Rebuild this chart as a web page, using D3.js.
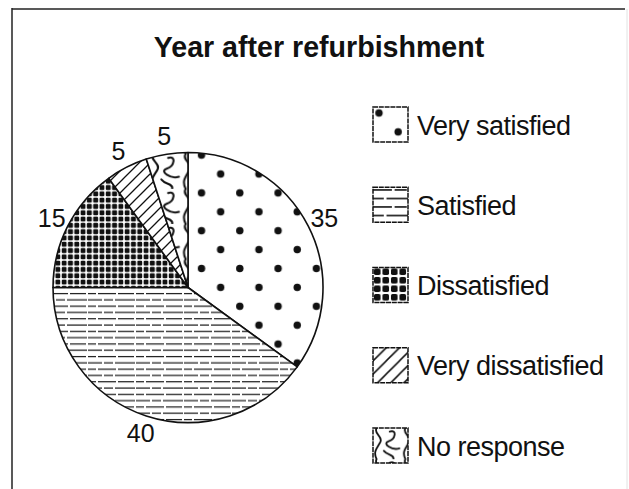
<!DOCTYPE html>
<html>
<head>
<meta charset="utf-8">
<script src="https://cdn.jsdelivr.net/npm/d3@7"></script>
<style>
  html, body { margin: 0; padding: 0; background: #fff; }
  text { font-family: "Liberation Sans", Arial, Helvetica, sans-serif; fill: #111; }
</style>
</head>
<body>
<script>

const svgWidth = 629;
const svgHeight = 489;

// Data
const categories = ["Very satisfied", "Satisfied", "Dissatisfied", "Very dissatisfied", "No response"];
const values = [35, 40, 15, 5, 5];
const patternKinds = ["dots", "hlines", "grid", "diag", "squiggle"];
const chartTitle = "Year after refurbishment";

// pie placement
const cx = 188;
const cy = 287.5;
const radius = 135;
const labelRadius = 153;

// create svg container
const svg = d3.select("body")
  .append("svg")
  .attr("width", svgWidth)
  .attr("height", svgHeight);

const defs = svg.append("defs");

// hatch patterns, one builder for pie and legend
function addPattern(id, kind, ox, oy, k) {
  const p = defs.append("pattern")
    .attr("id", id)
    .attr("patternUnits", "userSpaceOnUse")
    .attr("patternTransform", `translate(${ox},${oy}) scale(${k})`);
  p.append("rect").attr("width", 60).attr("height", 60).attr("fill", "#fff");

  if (kind === "dots") {
    p.attr("width", 38.3).attr("height", 37.8);
    p.append("circle").attr("cx", 9.6).attr("cy", 9.45).attr("r", 3.7).attr("fill", "#111");
    p.append("circle").attr("cx", 28.75).attr("cy", 28.35).attr("r", 3.7).attr("fill", "#111");
  } else if (kind === "hlines") {
    p.attr("width", 48).attr("height", 12.6);
    p.append("line").attr("x1", 0).attr("x2", 48).attr("y1", 2).attr("y2", 2)
      .attr("stroke", "#1a1a1a").attr("stroke-width", 1.2).attr("stroke-dasharray", "14,2,9,2,20,1");
    p.append("line").attr("x1", 0).attr("x2", 48).attr("y1", 8.3).attr("y2", 8.3)
      .attr("stroke", "#1a1a1a").attr("stroke-width", 1.2).attr("stroke-dasharray", "8,2,18,2,16,2");
  } else if (kind === "grid") {
    p.attr("width", 6.3).attr("height", 6.3);
    p.append("rect").attr("x", 0.7).attr("y", 0.7).attr("width", 4.9).attr("height", 4.9)
      .attr("rx", 1.2).attr("fill", "#111");
  } else if (kind === "diag") {
    p.attr("width", 11).attr("height", 11);
    p.append("path").attr("d", "M0,11 L11,0 M-2,2 L2,-2 M9,13 L13,9")
      .attr("stroke", "#111").attr("stroke-width", 1.3);
  } else {
    p.attr("width", 24).attr("height", 26);
    p.append("path")
      .attr("d", "M3,0 C0,5 9,7 6,12 S0,20 3,26 M14,3 C20,1 19,9 13,11 S16,19 22,17 M9,19 C12,23 18,22 17,26")
      .attr("fill", "none").attr("stroke", "#111").attr("stroke-width", 1.5).attr("stroke-linecap", "round");
  }
}

patternKinds.forEach(kind => {
  if (kind === "dots") addPattern(`pie-${kind}`, kind, 205 - 9.6, 170 - 9.45, 1);
  else addPattern(`pie-${kind}`, kind, cx, cy, kind === "squiggle" ? 1.35 : 1);
});

// border lines (scan frame)
svg.append("line").attr("x1", 12).attr("x2", 12).attr("y1", 8).attr("y2", svgHeight)
  .attr("stroke", "#222").attr("stroke-width", 1.5);
svg.append("line").attr("x1", 12).attr("x2", 625).attr("y1", 9).attr("y2", 9)
  .attr("stroke", "#222").attr("stroke-width", 1.5);
svg.append("line").attr("x1", 627).attr("x2", 627).attr("y1", 9).attr("y2", svgHeight)
  .attr("stroke", "#e2e2e2").attr("stroke-width", 1);

// title
svg.append("text")
  .attr("x", 319)
  .attr("y", 57)
  .attr("text-anchor", "middle")
  .attr("font-size", 28.6)
  .attr("font-weight", "bold")
  .text(chartTitle);

// pie
const pie = d3.pie().sort(null).value(d => d);
const arcs = pie(values);

const arc = d3.arc().innerRadius(0).outerRadius(radius);
const labelArc = d3.arc().innerRadius(labelRadius).outerRadius(labelRadius);

const pieGroup = svg.append("g")
  .attr("transform", `translate(${cx}, ${cy})`);

pieGroup.selectAll("path")
  .data(arcs)
  .enter()
  .append("path")
  .attr("d", arc)
  .attr("fill", (d, i) => `url(#pie-${patternKinds[i]})`)
  .attr("stroke", "#111")
  .attr("stroke-width", 1.6)
  .attr("stroke-linejoin", "round");

pieGroup.selectAll("text")
  .data(arcs)
  .enter()
  .append("text")
  .attr("x", d => labelArc.centroid(d)[0])
  .attr("y", d => labelArc.centroid(d)[1])
  .attr("text-anchor", "middle")
  .attr("dominant-baseline", "central")
  .attr("font-size", 25)
  .text(d => d.data);

// legend
const legendX = 373;
const boxSize = 35;
const legendY = d3.scalePoint()
  .domain(categories)
  .range([107, 428]);

const legendScale = { dots: 1, hlines: 1.35, grid: 1.35, diag: 1.2, squiggle: 1.2 };

categories.forEach((c, i) => {
  const kind = patternKinds[i];
  const y = legendY(c);
  if (kind === "dots") addPattern(`lg-${kind}`, kind, legendX - 3.6, y - 3.45, 1);
  else addPattern(`lg-${kind}`, kind, legendX, y, legendScale[kind]);
});

const legend = svg.append("g");

legend.selectAll("rect")
  .data(categories)
  .enter()
  .append("rect")
  .attr("x", legendX)
  .attr("y", d => legendY(d))
  .attr("width", boxSize)
  .attr("height", boxSize)
  .attr("fill", (d, i) => `url(#lg-${patternKinds[i]})`)
  .attr("stroke", "#111")
  .attr("stroke-width", 1.5)
  .attr("stroke-dasharray", "5,0.8");

legend.selectAll("text")
  .data(categories)
  .enter()
  .append("text")
  .attr("x", legendX + 44)
  .attr("y", d => legendY(d) + boxSize / 2 + 10)
  .attr("font-size", 27)
  .attr("letter-spacing", -0.5)
  .text(d => d);

</script>
</body>
</html>
